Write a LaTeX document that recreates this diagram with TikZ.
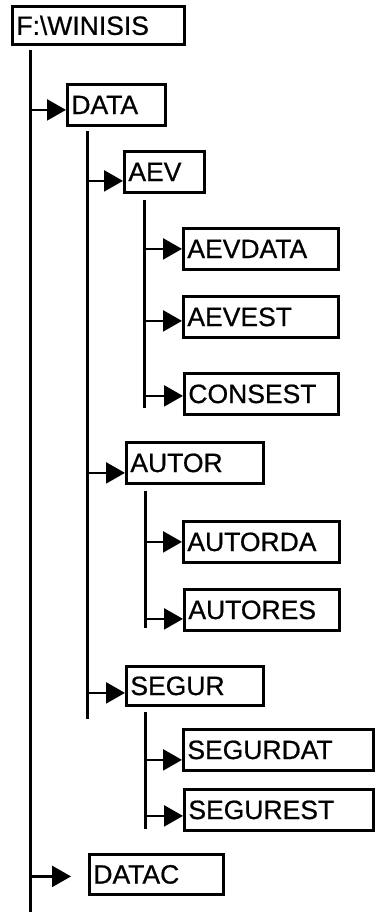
\documentclass[tikz,border=0pt]{standalone}
\usepackage{fontspec}
\setmainfont{Liberation Sans}
\usetikzlibrary{arrows.meta}

\begin{document}
\begin{tikzpicture}[x=1pt,y=-1pt,
    dirbox/.style={draw,line width=2.8pt,anchor=north west,inner xsep=4pt,inner ysep=0pt,minimum height=41pt,align=left,font=\dirfont},
    treeline/.style={line width=3pt},
    arr/.style={line width=2.5pt,-{Triangle[length=19pt,width=21pt]}}]
    \providecommand{\dirfont}{\addfontfeature{FakeBold=0.7}\fontsize{26.5pt}{30pt}\selectfont}
    \useasboundingbox (0,0) rectangle (375,913);
    % folders
    \node[dirbox,text width=164pt,minimum height=38pt] (root) at (11,5) {F:\textbackslash WINISIS};
    \node[dirbox,text width=90pt] (data) at (66,83) {DATA};
    \node[dirbox,text width=72pt] (aev) at (123,150) {AEV};
    \node[dirbox,text width=147pt] (aevdata) at (182,227) {AEVDATA};
    \node[dirbox,text width=147pt] (aevest) at (182,295) {AEVEST};
    \node[dirbox,text width=146pt] (consest) at (183,372) {CONSEST};
    \node[dirbox,text width=129pt] (autor) at (125,441) {AUTOR};
    \node[dirbox,text width=148pt] (autorda) at (182,520) {AUTORDA};
    \node[dirbox,text width=147pt] (autores) at (183,588) {AUTORES};
    \node[dirbox,text width=129pt,minimum height=39pt] (segur) at (125,665) {SEGUR};
    \node[dirbox,text width=182pt] (segurdat) at (182,728) {SEGURDAT};
    \node[dirbox,text width=181pt] (segurest) at (183,788) {SEGUREST};
    \node[dirbox,text width=126pt,minimum height=40pt] (datac) at (88,853) {DATAC};
    % tree lines
    \coordinate (trunk) at (30,50);       \coordinate (trunkend) at (30,912);
    \coordinate (dataline) at (87,131);   \coordinate (datalineend) at (87,719);
    \coordinate (aevline) at (144,200);   \coordinate (aevlineend) at (144,408);
    \coordinate (autorline) at (145,491); \coordinate (autorlineend) at (145,628);
    \coordinate (segurline) at (145,712); \coordinate (segurlineend) at (145,829);
    \foreach \from in {trunk,dataline,aevline,autorline,segurline}
        \draw[treeline] (\from) -- (\from end);
    % branches
    \foreach \from/\dir/\dy in {trunk/data/-5,dataline/aev/-9,aevline/aevdata/0,aevline/aevest/-4,
        aevline/consest/-2,dataline/autor/-10,autorline/autorda/0,autorline/autores/-9,
        dataline/segur/-7,segurline/segurdat/-10,segurline/segurest/-6} {
        \coordinate (in) at ([yshift=\dy pt]\dir.west);
        \draw[arr] (\from |- in) -- (in);
    }
    \coordinate (datacin) at ([xshift=-17pt,yshift=-2pt]datac.west);
    \draw[arr] (trunk |- datacin) -- (datacin);
\end{tikzpicture}
\end{document}
